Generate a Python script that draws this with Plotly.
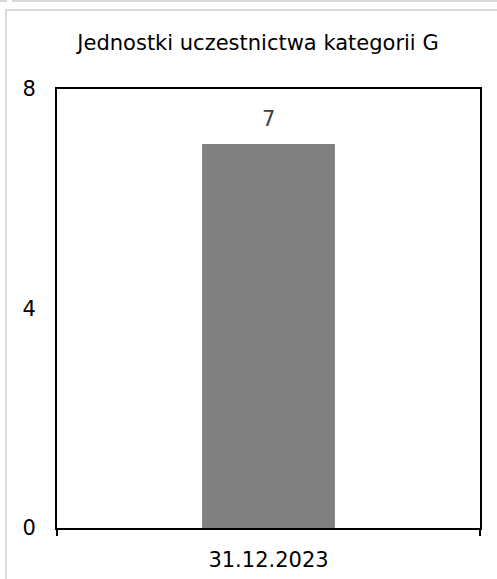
import plotly.graph_objects as go

categories = ["31.12.2023"]
values = [7]
y_ticks = [0, 4, 8]
title_text = "Jednostki uczestnictwa kategorii G"

W, H = 497, 579
ML, MR, MT, MB = 57, 17, 89, 51
PW, PH = W - ML - MR, H - MT - MB

def px(x):
    return (x - ML) / PW

def py(y):
    return (H - MB - y) / PH

FONT = "Verdana, DejaVu Sans, sans-serif"
FS = 21

fig = go.Figure()
fig.add_trace(go.Bar(
    x=categories, y=values,
    marker=dict(color="#808080", line=dict(width=0)),
    hoverinfo="skip",
))

for c, v in zip(categories, values):
    fig.add_annotation(x=c, y=v, text=str(v), showarrow=False,
                       yanchor="bottom", yshift=11,
                       font=dict(family=FONT, size=FS, color="#404040"))

shape_line = dict(color="#d9d9d9", width=2)
fig.add_shape(type="rect", xref="paper", yref="paper",
              x0=px(6), x1=px(520), y0=py(10), y1=py(620), line=shape_line, layer="below")
fig.add_shape(type="line", xref="paper", yref="paper",
              x0=px(-5), x1=px(7), y0=py(1), y1=py(1), line=shape_line)
fig.add_shape(type="rect", xref="paper", yref="paper",
              x0=px(13), x1=px(520), y0=py(1), y1=py(-30), line=shape_line)

fig.update_layout(
    width=W, height=H,
    margin=dict(l=ML, r=MR, t=MT, b=MB, autoexpand=False),
    paper_bgcolor="white", plot_bgcolor="white",
    bargap=0.686,
    showlegend=False,
    font=dict(family=FONT, size=FS, color="#000000"),
    title=dict(text=title_text, x=258 / W, xanchor="center", xref="container",
               y=1 - 43 / H, yanchor="middle", yref="container",
               font=dict(family=FONT, size=FS, color="#000000")),
    xaxis=dict(type="category", showline=True, mirror=True, linecolor="black", linewidth=2,
               ticks="outside", tickson="boundaries", ticklen=6, tickwidth=2, tickcolor="black",
               showgrid=False, zeroline=False, ticklabelstandoff=12, automargin=False,
               tickfont=dict(family=FONT, size=FS, color="#000000")),
    yaxis=dict(range=[0, 8], tickvals=y_ticks, showline=True, mirror=True, linecolor="black",
               linewidth=2, ticks="", showgrid=False, zeroline=False, ticklabelstandoff=15,
               automargin=False,
               tickfont=dict(family=FONT, size=FS, color="#000000")),
)

fig.write_html("out.html", config={"displayModeBar": False},
               post_script="document.body.style.margin='0';document.body.style.overflow='hidden';")
